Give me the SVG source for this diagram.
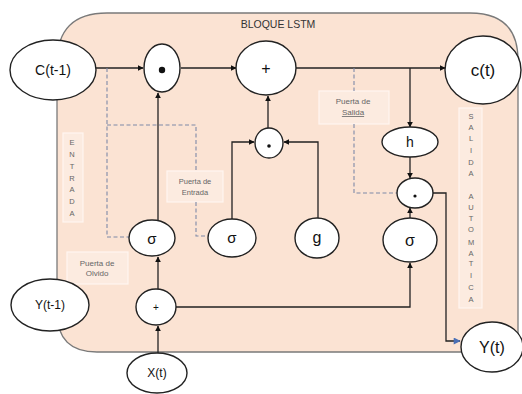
<svg xmlns="http://www.w3.org/2000/svg" width="522" height="394" viewBox="0 0 522 394">
<style>
.node{fill:#fff;stroke:#222;stroke-width:1.4}
.lbl{font-family:"Liberation Sans",Arial,sans-serif;fill:#111;text-anchor:middle}
.sm{font-family:"Liberation Sans",Arial,sans-serif;font-size:7.5px;fill:#666;text-anchor:middle}
.box{fill:#fcebe0;stroke:#fff6f0;stroke-width:1.2}
.wire{fill:none;stroke:#222;stroke-width:1.3}
.dash{fill:none;stroke:#7f8aa8;stroke-width:1.1;stroke-dasharray:4 2.5}
</style>
<defs>
<marker id="ah" viewBox="0 0 10 10" refX="9" refY="5" markerWidth="6" markerHeight="6" orient="auto" markerUnits="userSpaceOnUse">
<path d="M0,0 L10,5 L0,10 z" fill="#111"/>
</marker>
<marker id="ahb" viewBox="0 0 10 10" refX="9" refY="5" markerWidth="8" markerHeight="7" orient="auto" markerUnits="userSpaceOnUse">
<path d="M0,0 L10,5 L0,10 z" fill="#4a6fb5"/>
</marker>
</defs>

<g id="block">
<path d="M107,13 L470,13 Q518,13 518,60 L518,352 L97,352 Q57,352 57,312 L57,63 Q57,13 107,13 Z" fill="#fbe3d3" stroke="#7a7a7a" stroke-width="1.3"/>
<text x="278" y="28" style="font-family:'Liberation Sans',Arial,sans-serif;font-size:10.5px;fill:#333;text-anchor:middle">BLOQUE LSTM</text>
</g>

<g id="labels">
<rect class="box" x="63" y="133" width="20" height="89"/>
<text class="sm" font-size="7.5"><tspan x="72" y="145">E</tspan><tspan x="72" y="157">N</tspan><tspan x="72" y="169">T</tspan><tspan x="72" y="181">R</tspan><tspan x="72" y="192">A</tspan><tspan x="72" y="204">D</tspan><tspan x="72" y="216">A</tspan></text>
<rect class="box" x="459" y="108" width="23" height="200"/>
<text class="sm"><tspan x="471" y="119">S</tspan><tspan x="471" y="130">A</tspan><tspan x="471" y="141">L</tspan><tspan x="471" y="153">I</tspan><tspan x="471" y="165">D</tspan><tspan x="471" y="176">A</tspan><tspan x="471" y="199">A</tspan><tspan x="471" y="210">U</tspan><tspan x="471" y="221">T</tspan><tspan x="471" y="232">O</tspan><tspan x="471" y="245">M</tspan><tspan x="471" y="256">A</tspan><tspan x="471" y="266">T</tspan><tspan x="471" y="278">I</tspan><tspan x="471" y="290">C</tspan><tspan x="471" y="302">A</tspan></text>
<rect class="box" x="167" y="171" width="56" height="31"/>
<text class="sm"><tspan x="195" y="184">Puerta de</tspan><tspan x="195" y="195">Entrada</tspan></text>
<rect class="box" x="67" y="252" width="61" height="32"/>
<text class="sm" style="font-size:8px"><tspan x="97" y="266">Puerta de</tspan><tspan x="97" y="276">Olvido</tspan></text>
<rect class="box" x="319" y="91" width="70" height="33"/>
<text class="sm" style="font-size:8px"><tspan x="353" y="104">Puerta de</tspan><tspan x="353" y="115" text-decoration="underline">Salida</tspan></text>
</g>

<g id="connectors">
<path class="wire" d="M96,68 L143,68" marker-end="url(#ah)"/>
<path class="wire" d="M181,68 L236,68" marker-end="url(#ah)"/>
<path class="wire" d="M296,68 L445,68" marker-end="url(#ah)"/>
<path class="wire" d="M410,68 L410,127" marker-end="url(#ah)"/>
<path class="wire" d="M410,157 L410,178" marker-end="url(#ah)"/>
<path class="wire" d="M410,218 L410,208" marker-end="url(#ah)"/>
<path class="wire" d="M158,220 L158,93" marker-end="url(#ah)"/>
<path class="wire" d="M158,289 L158,257" marker-end="url(#ah)"/>
<path class="wire" d="M158,353 L158,326" marker-end="url(#ah)"/>
<path class="wire" d="M268,128 L268,96" marker-end="url(#ah)"/>
<path class="wire" d="M232,219 L232,142 L254,142" marker-end="url(#ah)"/>
<path class="wire" d="M318,218 L318,142 L284,142" marker-end="url(#ah)"/>
<path class="wire" d="M176,307 L410,307 L410,263" marker-end="url(#ah)"/>
<path class="wire" d="M433,193 L446,193 L446,341 L460,341" marker-end="url(#ahb)"/>
<path class="dash" d="M107,68 L107,237 L129,237"/>
<path class="dash" d="M107,125 L196,125 L196,171"/>
<path class="dash" d="M196,202 L196,236 L208,236"/>
<path class="dash" d="M354,68 L354,91"/>
<path class="dash" d="M354,124 L354,193 L397,193"/>
</g>

<g id="C_t-1"><ellipse class="node" cx="53" cy="70" rx="43" ry="30"/><text class="lbl" x="53" y="75" font-size="14">C(t-1)</text></g>
<g id="mult_forget"><ellipse class="node" cx="162" cy="68" rx="18" ry="24"/><circle cx="162" cy="70" r="3.2" fill="#111"/></g>
<g id="add_cell"><ellipse class="node" cx="266" cy="68" rx="30" ry="27"/><text class="lbl" x="266" y="74" font-size="16">+</text></g>
<g id="c_t"><ellipse class="node" cx="483" cy="70" rx="38" ry="34"/><text class="lbl" x="483" y="76" font-size="17">c(t)</text></g>
<g id="mult_input"><ellipse class="node" cx="269" cy="143" rx="14" ry="15"/><circle cx="269" cy="146" r="1.8" fill="#111"/></g>
<g id="h"><ellipse class="node" cx="410" cy="142" rx="28" ry="15"/><text class="lbl" x="410" y="147" font-size="14">h</text></g>
<g id="mult_output"><ellipse class="node" cx="415" cy="193" rx="18" ry="15"/><circle cx="415" cy="196" r="1.6" fill="#111"/></g>
<g id="sigma_output"><ellipse class="node" cx="410" cy="240" rx="27" ry="22"/><text class="lbl" x="410" y="246" font-size="16">σ</text></g>
<g id="sigma_forget"><ellipse class="node" cx="152" cy="238" rx="23" ry="18"/><text class="lbl" x="152" y="244" font-size="15">σ</text></g>
<g id="sigma_input"><ellipse class="node" cx="232" cy="238" rx="24" ry="19"/><text class="lbl" x="232" y="243" font-size="15">σ</text></g>
<g id="g"><ellipse class="node" cx="317" cy="238" rx="22" ry="20"/><text class="lbl" x="317" y="243" font-size="16">g</text></g>
<g id="add_input"><ellipse class="node" cx="156" cy="307" rx="20" ry="18"/><text class="lbl" x="156" y="311" font-size="10">+</text></g>
<g id="Y_t-1"><ellipse class="node" cx="50" cy="305" rx="39" ry="26"/><text class="lbl" x="50" y="309" font-size="12">Y(t-1)</text></g>
<g id="X_t"><ellipse class="node" cx="157" cy="373" rx="30" ry="20"/><text class="lbl" x="157" y="377" font-size="12">X(t)</text></g>
<g id="Y_t"><ellipse class="node" cx="492" cy="347" rx="31" ry="25"/><text class="lbl" x="492" y="353" font-size="16">Y(t)</text></g>
</svg>
